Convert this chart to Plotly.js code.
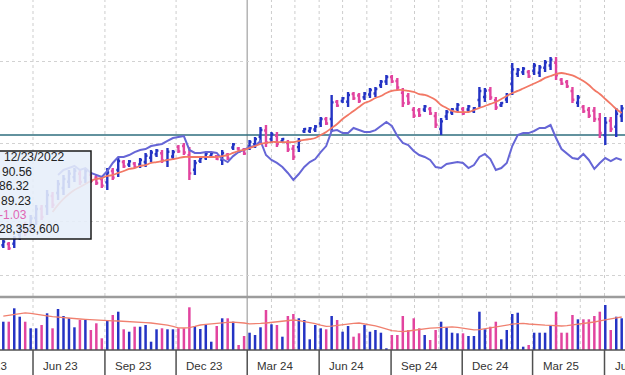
<!DOCTYPE html>
<html><head><meta charset="utf-8">
<script src="https://cdn.plot.ly/plotly-3.0.1.min.js"></script>
<style>html,body{margin:0;padding:0;overflow:hidden;background:#fff}#chart{width:625px;height:375px}</style>
</head><body><div id="chart"></div>
<script>
// ---- data (weekly bars starting 2023-04-24) ----
const firstWeek = '2023-04-24';
const direction = ('BMBBMBBMBM'+'BBBBMBMMMB'+'MBMBMBBBBM'+'BBMMMBBBBM'+'BMBMMBBBMB'+
  'MBMMBBBBBM'+'BMBBMMBBBB'+'BMMMMMMBMM'+'BBBBMBBBBM'+'MBBBBBMBBB'+'BMMMMBMMMM'+'BMBB').split('');
const open = [62.2,63.2,63.3,70.3,77.4,77.0,83.2,90.3,92.2,100.1,102.4,106.2,111.1,114.6,117.2,114.1,116.4,114.3,113.2,110.6,
  119.3,120.1,126.2,124.3,125.1,124.3,126.2,129.5,132.2,133.0,127.5,130.5,137.8,138.5,131.4,120.3,127.1,129.9,130.9,130.7,
  128.0,131.8,137.4,136.6,135.7,138.2,140.0,145.7,150.5,143.8,146.4,142.2,140.9,136.4,137.7,149.9,150.2,151.2,155.9,159.3,
  159.3,172.6,173.2,172.6,178.5,177.4,176.1,178.2,178.9,185.3,188.2,191.6,188.5,179.5,177.0,166.4,166.0,166.6,167.0,161.6,
  151.6,161.2,164.3,167.1,167.0,166.6,165.5,173.9,176.2,181.4,173.7,169.9,174.3,186.4,194.0,195.3,195.5,196.4,194.9,198.7,
  200.5,202.6,189.5,187.8,180.9,171.8,168.5,166.4,165.7,159.1,146.9,158.0,153.3,161.6];
const high = [66.2,64.7,69.3,77.8,80.1,85.5,93.2,93.2,104.7,103.2,112.4,116.2,120.1,121.6,120.1,121.6,118.5,116.2,115.5,121.6,
  121.6,130.1,127.8,127.8,126.2,129.3,133.2,135.5,136.2,135.5,137.0,135.5,139.3,140.9,137.8,127.8,130.1,133.9,133.9,131.6,
  135.5,133.2,140.9,137.8,137.0,143.2,145.5,153.2,154.7,149.3,149.3,144.7,143.2,139.3,144.7,152.4,153.2,154.7,160.9,160.9,
  177.8,173.9,176.2,180.1,180.1,179.3,180.1,183.2,183.9,189.3,193.2,193.2,190.9,183.2,179.3,168.5,167.8,170.1,168.5,164.7,
  160.1,166.2,167.8,171.6,168.5,170.1,168.5,183.9,183.2,183.9,176.2,172.4,179.3,202.4,198.5,199.3,197.0,202.4,200.8,204.7,
  207.0,207.0,190.9,189.3,183.9,177.8,170.1,168.5,168.5,163.9,160.9,160.9,167.8,170.1];
const low = [60.1,58.5,60.1,66.2,69.3,72.4,77.8,81.6,85.5,90.9,97.0,100.9,106.2,110.9,108.5,110.1,110.1,108.5,106.2,104.7,
  112.4,114.7,121.6,122.4,121.6,121.6,122.4,126.2,130.1,125.5,122.4,127.8,133.2,131.6,112.4,116.2,125.5,127.8,129.3,127.8,
  123.9,127.8,135.5,133.2,131.6,135.5,137.0,141.6,137.8,140.9,137.8,140.9,133.9,127.8,133.9,148.5,148.5,149.3,153.2,154.7,
  149.3,168.5,171.6,168.5,173.9,171.6,173.9,175.5,176.2,183.2,185.5,187.0,181.6,168.5,170.1,160.1,160.9,164.7,162.4,152.4,
  147.0,158.5,162.4,164.7,162.4,164.7,163.9,168.5,172.4,173.9,166.2,168.5,171.6,177.8,191.6,193.2,190.9,193.2,191.6,195.5,
  197.0,189.3,185.5,183.2,171.6,168.5,163.9,160.1,157.0,144.7,139.3,149.3,145.5,157.0];
const close = [65.0,59.8,67.5,75.5,71.5,82.9,90.1,83.9,100.9,93.3,109.3,113.2,117.3,119.5,110.9,119.3,111.8,110.1,108.1,118.2,
  114.2,127.0,122.9,126.7,122.5,127.8,131.0,133.6,135.0,127.5,134.1,133.9,134.4,133.5,117.5,125.5,129.2,132.7,133.0,128.5,
  133.2,128.9,139.8,134.1,132.7,141.6,143.8,150.9,141.2,147.6,140.1,143.9,135.8,130.1,142.5,151.6,152.2,153.6,159.3,155.9,
  172.1,169.6,175.3,177.8,175.2,173.2,178.9,181.6,182.4,188.1,191.6,188.2,183.5,171.5,171.9,161.8,162.2,169.0,163.6,154.9,
  157.5,164.7,166.7,170.2,163.6,169.0,167.6,180.9,181.0,175.9,168.2,171.6,177.8,197.5,197.2,198.1,192.1,200.5,199.0,202.9,
  205.0,192.9,186.5,184.4,174.1,175.9,165.2,161.8,159.3,148.5,156.5,151.6,163.3,167.5];
const volumeM = [141.5,141.5,208.5,166.5,141.5,108.5,108.5,125,183.5,108.5,205,170,158.5,113.5,150,150,100,133.5,58.5,150,
  175,191.5,103.5,91.5,116.5,116.5,125,41.5,103.5,108.5,103.5,103.5,108.5,108.5,213.5,120,105,125,41.5,120,
  158.5,158.5,141.5,25,70,86.5,75,113.5,200,128.5,125,66.5,170,180,158.5,150,53.5,125,108.5,103.5,
  170,150,91.5,120,66.5,83.5,125,91.5,100,86.5,8.5,75,75,170,100,158.5,108.5,75,50,100,
  141.5,113.5,86.5,83.5,83.5,70,70,191.5,103.5,116.5,141.5,53.5,100,180,186.5,16.5,25,86.5,86.5,86.5,
  125,191.5,86.5,86.5,175,153.5,153.5,153.5,170,191.5,225,100,166.5,158.5];
const priceMA = [null,null,null,null,null,null,null,null,null,87.8,93.2,97.8,101.6,104.7,107.0,109.3,111.6,113.2,113.9,115.5,
  116.2,117.8,119.3,120.9,121.6,123.2,123.9,125.5,126.2,127.0,127.8,128.5,129.3,130.1,130.1,130.1,130.1,130.1,130.1,130.1,
  130.8,131.6,133.2,134.7,135.5,137.0,138.5,140.1,140.9,141.6,141.6,141.6,141.6,141.6,142.4,143.2,143.9,144.7,147.0,149.3,
  152.4,155.5,159.3,162.4,165.5,168.5,171.6,173.2,175.5,177.0,179.3,180.9,181.6,181.6,180.9,180.1,178.5,177.8,176.2,173.9,
  170.1,167.8,165.5,164.7,164.7,164.7,166.2,167.8,169.3,170.9,172.4,174.7,177.0,179.3,180.9,182.8,184.7,186.6,188.5,190.9,
  192.4,193.9,194.7,193.9,192.8,190.9,188.5,185.5,181.6,178.5,174.7,170.9,167.0,163.9];
const relStrength = [null,null,null,null,null,null,null,null,null,null,116.2,120.1,121.6,123.2,120.1,121.6,117.8,116.2,114.7,119.3,
  125.5,130.1,130.1,131.6,133.9,135.5,136.2,138.5,139.3,140.1,142.4,144.7,145.5,146.2,135.5,133.2,133.2,133.9,133.9,133.2,
  128.5,126.2,130.8,133.9,135.5,137.8,138.5,142.4,131.6,127.8,125.5,122.4,117.8,112.4,117.0,122.4,126.2,128.5,133.9,138.5,
  150.1,150.8,148.5,148.5,152.4,150.8,149.3,149.3,150.8,153.9,157.0,153.9,146.2,140.9,139.3,134.7,131.6,130.1,127.8,122.4,
  121.6,124.7,125.5,126.2,125.5,121.6,123.9,130.1,132.4,128.5,120.1,121.6,125.5,138.5,147.0,148.5,148.5,150.1,152.4,152.4,
  154.7,144.7,136.2,132.4,129.3,128.5,132.4,127.8,120.9,125.5,129.3,127.0,129.3,127.8];
const volumeMA = [169,174,179,183,186,183,178,174,171,167,164,161,159,157,155,153,151,150,149,148,
  146,145,144,142,141,139,137,135,132,128,124,118,111,110,112,118,125,128,131,134,
  136,138,139,138,135,131,131,133,135,138,142,146,149,150,147,143,139,132,124,118,
  119,123,127,130,133,135,131,126,121,113,105,97,94,92,95,99,103,106,109,111,
  113,115,116,113,109,105,101,102,107,112,115,120,125,129,132,133,130,127,125,124,
  123,121,120,122,125,128,131,135,140,146,152,157,161,165];
const referenceLevel = 147.0;
const quarterStarts = ['2023-03-01','2023-06-01','2023-09-01','2023-12-01','2024-03-01','2024-06-01','2024-09-01','2024-12-01','2025-03-01','2025-06-01'];
const quarterLabels = ['Mar 23','Jun 23','Sep 23','Dec 23','Mar 24','Jun 24','Sep 24','Dec 24','Mar 25','Jun 25'];
const gridDates = ['2023-06-01','2023-09-01','2023-12-01','2024-04-01','2024-05-01','2024-06-01','2024-07-01','2024-08-01','2024-09-01',
  '2024-10-01','2024-11-01','2024-12-01','2025-01-01','2025-02-01','2025-03-01','2025-04-01','2025-05-01','2025-06-01'];
const markerDate = '2024-03-01';
const tipLines = ['12/23/2022','90.56','86.32','89.23','-1.03','28,353,600'];

// ---- build ----
const BLUE = '#2433c4', MAG = '#e2449f';
const weeks = [];
const d0 = Date.parse(firstWeek + 'T00:00:00Z');
for (let i = 0; i < close.length; i++) weeks.push(new Date(d0 + i * 7 * 864e5).toISOString().slice(0, 10));
const xRange = ['2023-04-19 18:42', '2025-06-27 05:17'];
const r0 = Date.parse(xRange[0].replace(' ', 'T') + 'Z'), r1 = Date.parse(xRange[1].replace(' ', 'T') + 'Z');
const toPaper = d => (Date.parse(d + 'T00:00:00Z') - r0) / (r1 - r0);

function subset(flag) {
  const o = {x: [], open: [], high: [], low: [], close: []};
  direction.forEach((c, i) => { if (c === flag) { o.x.push(weeks[i]); o.open.push(open[i]); o.high.push(high[i]); o.low.push(low[i]); o.close.push(close[i]); } });
  return o;
}
const up = subset('B'), dn = subset('M');
const ohlc = (s, col) => ({type: 'ohlc', x: s.x, open: s.open, high: s.high, low: s.low, close: s.close,
  xaxis: 'x', yaxis: 'y', tickwidth: 0.35, hoverinfo: 'skip',
  increasing: {line: {color: col, width: 2.4}}, decreasing: {line: {color: col, width: 2.4}}});

const traces = [
  {type: 'bar', x: weeks, y: volumeM, xaxis: 'x2', yaxis: 'y2', width: 3.2 * 864e5,
   marker: {color: direction.map(c => c === 'B' ? BLUE : MAG), line: {width: 0}}, hoverinfo: 'skip'},
  {type: 'scatter', mode: 'lines', x: weeks, y: volumeMA, xaxis: 'x2', yaxis: 'y2', line: {color: '#f0806f', width: 1.3}, hoverinfo: 'skip'},
  {type: 'scatter', mode: 'lines', x: weeks, y: relStrength, xaxis: 'x', yaxis: 'y', line: {color: '#6666d6', width: 2}, hoverinfo: 'skip'},
  {type: 'scatter', mode: 'lines', x: weeks, y: priceMA, xaxis: 'x', yaxis: 'y', line: {color: '#f27865', width: 1.8, shape: 'spline'}, hoverinfo: 'skip'},
  ohlc(up, BLUE), ohlc(dn, MAG)
];

const H = 375;
const pY = px => (H - px) / H;
const shapes = [];
gridDates.forEach(d => shapes.push({type: 'line', xref: 'x', yref: 'paper', x0: d, x1: d, y0: pY(350), y1: 1,
  line: {color: '#cdcdcd', width: 1, dash: 'dot'}, layer: 'below'}));
shapes.push({type: 'line', xref: 'x', yref: 'paper', x0: markerDate, x1: markerDate, y0: pY(350), y1: 1, line: {color: '#b4b4b4', width: 1.5}, layer: 'below'});
shapes.push({type: 'line', xref: 'paper', yref: 'y', x0: 0, x1: 1, y0: referenceLevel, y1: referenceLevel, line: {color: '#2e6e7e', width: 1.5}, layer: 'below'});
shapes.push({type: 'line', xref: 'paper', yref: 'paper', x0: 0, x1: 1, y0: pY(297), y1: pY(297), line: {color: '#9c9c9c', width: 2.5}});
shapes.push({type: 'line', xref: 'paper', yref: 'paper', x0: 0, x1: 1, y0: pY(350), y1: pY(350), line: {color: '#505050', width: 1.5}});
quarterStarts.forEach(d => shapes.push({type: 'line', xref: 'paper', yref: 'paper', x0: toPaper(d), x1: toPaper(d), y0: 0, y1: pY(350), line: {color: '#505050', width: 1.5}}));
shapes.push({type: 'rect', xref: 'paper', yref: 'paper', x0: -0.01, x1: 91 / 625, y0: pY(239), y1: pY(151),
  fillcolor: 'rgba(230,238,249,0.88)', line: {color: '#1a1a1a', width: 1.5}, layer: 'above'});

const annotations = [];
quarterStarts.forEach((d, k) => annotations.push({xref: 'paper', yref: 'paper', x: toPaper(d), y: pY(366), xanchor: 'left', yanchor: 'middle',
  xshift: 8, showarrow: false, text: quarterLabels[k], font: {family: 'Liberation Sans, Arial, sans-serif', size: 11.5, color: '#333'}}));
const tipY = [157, 171.7, 185.7, 200.7, 215, 229.3];
const tipX = [2, 0, -3, -1, -3, -3];
tipLines.forEach((t, k) => annotations.push({xref: 'paper', yref: 'paper', x: 0, y: pY(tipY[k]), xanchor: 'left', yanchor: 'middle',
  xshift: tipX[k], showarrow: false, text: t, font: {family: 'Liberation Sans, Arial, sans-serif', size: 12, color: k === 4 ? '#e066b4' : '#222'}}));

const layout = {
  width: 625, height: 375, margin: {l: 0, r: 0, t: 0, b: 0}, showlegend: false,
  paper_bgcolor: '#fff', plot_bgcolor: '#fff',
  xaxis: {type: 'date', range: xRange, domain: [0, 1], anchor: 'y', showticklabels: false, showgrid: false, zeroline: false, showline: false, ticks: '', rangeslider: {visible: false}},
  xaxis2: {type: 'date', range: xRange, domain: [0, 1], anchor: 'y2', matches: 'x', showticklabels: false, showgrid: false, zeroline: false, showline: false, ticks: ''},
  yaxis: {domain: [pY(296), 1], range: [23.16, 250.85], showticklabels: false, ticks: '', zeroline: false, showline: false,
    tickvals: [203.2, 140.1, 80.1, 39.3], showgrid: true, gridcolor: '#d2d2d2', griddash: 'dot', gridwidth: 1},
  yaxis2: {domain: [pY(350), pY(298)], range: [0, 260], showticklabels: false, ticks: '', zeroline: false, showline: false, showgrid: false},
  shapes: shapes, annotations: annotations
};
Plotly.newPlot('chart', traces, layout, {staticPlot: true, displayModeBar: false});
</script></body></html>
